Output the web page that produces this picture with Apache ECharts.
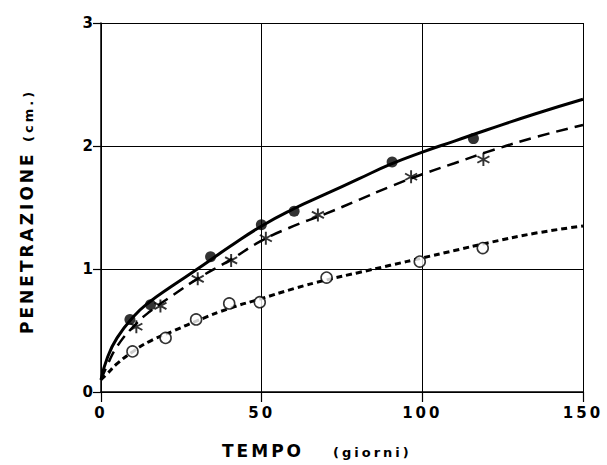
<!DOCTYPE html>
<html>
<head>
<meta charset="utf-8">
<title>Penetrazione</title>
<script src="https://cdn.jsdelivr.net/npm/echarts@6.0.0/dist/echarts.min.js"></script>
<style>
  html, body { margin: 0; padding: 0; background: #fff; }
  #chart { width: 607px; height: 465px; }
  /* the original lettering is very wide, so space it out a bit */
  #chart text { letter-spacing: 3px; }
</style>
</head>
<body>
<div id="chart"></div>
<script>
  // fitted curves
  var solidT = [0, 2, 5, 10, 15, 22, 30, 40, 50, 60, 70, 80, 90, 100, 110, 120, 135, 150];
  var solidV = [0.10, 0.28, 0.44, 0.61, 0.73, 0.86, 1.00, 1.18, 1.35, 1.49, 1.61, 1.73, 1.85, 1.95, 2.04, 2.13, 2.26, 2.38];

  var dashT = [0, 2, 5, 10, 15, 22, 30, 40, 50, 60, 70, 80, 90, 100, 110, 120, 135, 150];
  var dashV = [0.10, 0.22, 0.37, 0.53, 0.65, 0.78, 0.92, 1.07, 1.23, 1.35, 1.45, 1.56, 1.67, 1.77, 1.86, 1.95, 2.07, 2.17];

  var dotT = [0, 2, 5, 10, 15, 22, 30, 40, 50, 60, 70, 80, 90, 100, 110, 120, 135, 150];
  var dotV = [0.10, 0.15, 0.23, 0.33, 0.41, 0.49, 0.58, 0.68, 0.76, 0.84, 0.91, 0.97, 1.03, 1.09, 1.15, 1.21, 1.29, 1.35];

  // measured points
  var filledT = [9, 15.4, 34.1, 49.9, 60.1, 90.6, 115.9];
  var filledV = [0.59, 0.71, 1.10, 1.36, 1.47, 1.87, 2.06];

  var starT = [11, 18.5, 30.1, 40.5, 51.3, 67.5, 96.5, 119];
  var starV = [0.53, 0.70, 0.92, 1.07, 1.25, 1.44, 1.75, 1.89];

  var openT = [9.8, 20.1, 29.6, 39.9, 49.4, 70.2, 99.2, 118.8];
  var openV = [0.33, 0.44, 0.59, 0.72, 0.73, 0.93, 1.06, 1.17];

  var xName = 'TEMPO';
  var xUnit = '(giorni)';
  var yName = 'PENETRAZIONE';
  var yUnit = '(cm.)';

  function pairs(t, v) {
    var out = [];
    for (var i = 0; i < t.length; i++) {
      out.push([t[i], v[i]]);
    }
    return out;
  }

  // asterisk: three crossed bars
  var asterisk = 'path://M43,0L57,0L57,100L43,100Z' +
    'M10.2,18.94L96.8,68.94L89.8,81.06L3.2,31.06Z' +
    'M3.2,68.94L89.8,18.94L96.8,31.06L10.2,81.06Z';

  var labelFont = { color: '#000', fontFamily: 'DejaVu Sans', fontWeight: 'bold', fontSize: 15 };

  var chart = echarts.init(document.getElementById('chart'), null, { renderer: 'svg' });
  chart.setOption({
    animation: false,
    backgroundColor: '#fff',
    grid: { left: 101, right: 24, top: 23, bottom: 73 },
    xAxis: [
      {
        type: 'value', min: 0, max: 150, interval: 50,
        axisLine: { lineStyle: { color: '#000', width: 1.5 } },
        axisTick: { show: true, length: 10, lineStyle: { color: '#000', width: 1.2 } },
        axisLabel: Object.assign({ margin: 13 }, labelFont),
        splitLine: { show: true, lineStyle: { color: '#000', width: 1 } }
      },
      {
        // only used to poke the vertical grid lines out above the top
        type: 'value', position: 'top', min: 0, max: 150, interval: 50,
        axisLine: { show: false },
        axisTick: { show: true, length: 10, lineStyle: { color: '#000', width: 1 } },
        axisLabel: { show: false },
        splitLine: { show: false }
      }
    ],
    yAxis: [
      {
        type: 'value', min: 0, max: 3, interval: 1,
        axisLine: { show: true, lineStyle: { color: '#000', width: 1.5 } },
        axisTick: { show: true, length: 8, lineStyle: { color: '#000', width: 1.2 } },
        axisLabel: Object.assign({ margin: 5 }, labelFont),
        splitLine: { show: true, lineStyle: { color: '#000', width: 1 } }
      },
      {
        type: 'value', position: 'right', min: 0, max: 3, interval: 1,
        axisLine: { show: false },
        axisTick: { show: true, length: 14, lineStyle: { color: '#000', width: 1 } },
        axisLabel: { show: false },
        splitLine: { show: false }
      }
    ],
    graphic: [
      {
        type: 'text', x: 222, y: 451,
        style: { text: xName, fill: '#000', font: 'bold 17px "DejaVu Sans"', align: 'left', verticalAlign: 'middle' }
      },
      {
        type: 'text', x: 333, y: 452,
        style: { text: xUnit, fill: '#000', font: 'bold 13px "DejaVu Sans"', align: 'left', verticalAlign: 'middle' }
      },
      {
        type: 'text', x: 27, y: 334, rotation: Math.PI / 2,
        style: { text: yName, fill: '#000', font: 'bold 17px "DejaVu Sans"', align: 'left', verticalAlign: 'middle' }
      },
      {
        type: 'text', x: 28, y: 142, rotation: Math.PI / 2,
        style: { text: yUnit, fill: '#000', font: 'bold 13px "DejaVu Sans"', align: 'left', verticalAlign: 'middle' }
      }
    ],
    series: [
      {
        type: 'line', data: pairs(solidT, solidV), smooth: true, showSymbol: false,
        lineStyle: { color: '#000', width: 3 }, z: 3
      },
      {
        type: 'line', data: pairs(dashT, dashV), smooth: true, showSymbol: false,
        lineStyle: { color: '#000', width: 2.5, type: [12, 7] }, z: 3
      },
      {
        type: 'line', data: pairs(dotT, dotV), smooth: true, showSymbol: false,
        lineStyle: { color: '#000', width: 3, type: [6, 4] }, z: 3
      },
      {
        type: 'scatter', data: pairs(filledT, filledV), symbol: 'circle', symbolSize: 11,
        itemStyle: { color: '#000' }, z: 4
      },
      {
        type: 'scatter', data: pairs(starT, starV), symbol: asterisk, symbolSize: 13,
        itemStyle: { color: '#000' }, z: 4
      },
      {
        type: 'scatter', data: pairs(openT, openV), symbol: 'circle', symbolSize: 11,
        itemStyle: { color: '#fff', borderColor: '#000', borderWidth: 1.6 }, z: 4
      }
    ]
  });
</script>
</body>
</html>
